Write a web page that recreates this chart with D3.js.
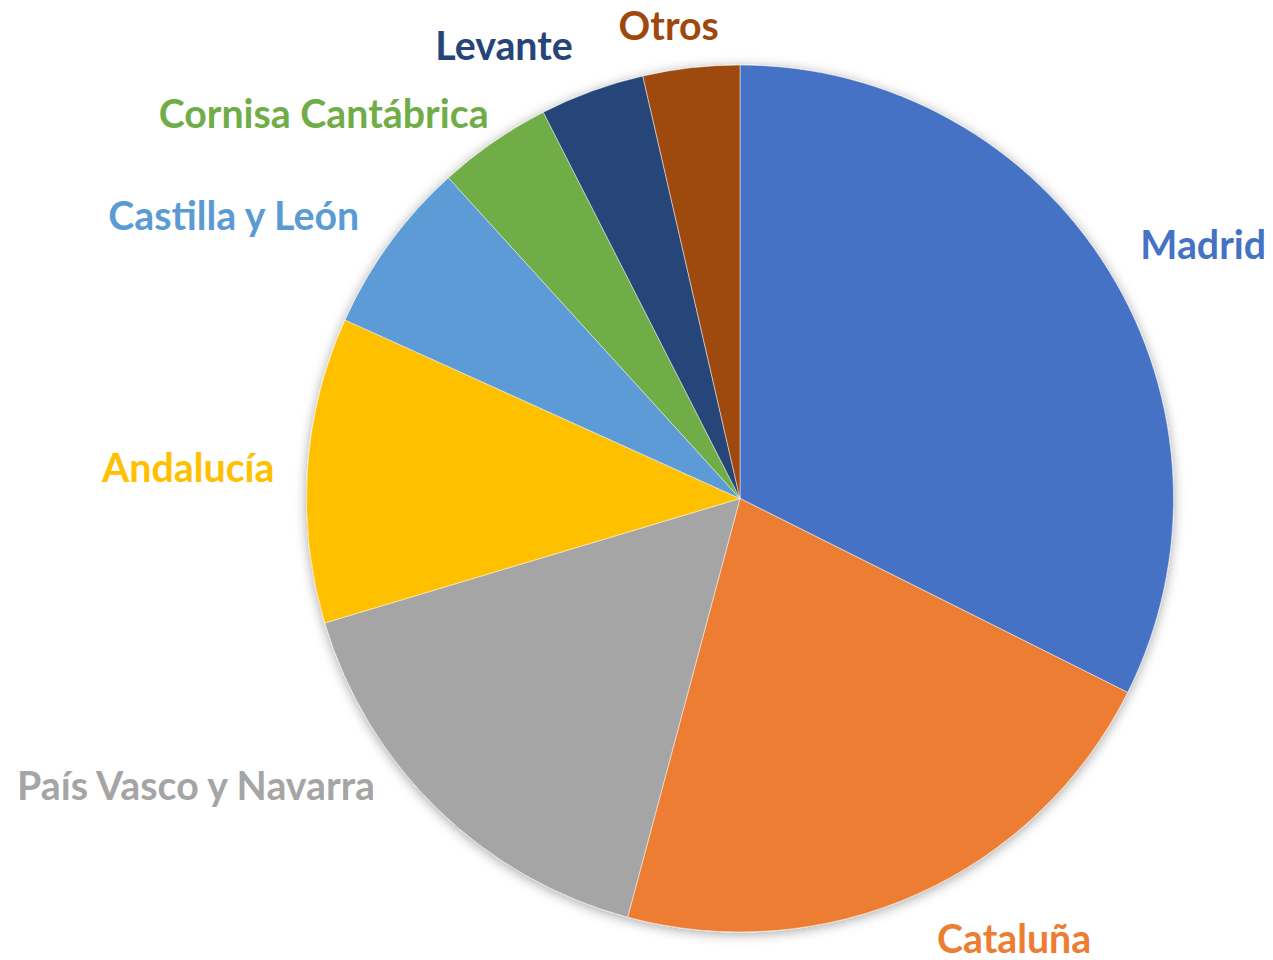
<!DOCTYPE html>
<html>
<head>
<meta charset="utf-8">
<script src="https://cdn.jsdelivr.net/npm/d3@7"></script>
<style>
  html, body { margin: 0; padding: 0; background: #fff; }
  svg { display: block; }
  .lbl { font-family: Lato, "Open Sans", sans-serif; font-weight: 700; font-size: 39.3px; }
</style>
</head>
<body>
<div class="plot"></div>
<script>
// regions, clockwise from 12 o'clock (percent share)
var regions = ["Madrid", "Cataluña", "País Vasco y Navarra", "Andalucía",
  "Castilla y León", "Cornisa Cantábrica", "Levante", "Otros"];
var shares = [32.4, 21.8, 16.2, 11.4, 6.5, 4.25, 3.9, 3.6];
var colors = ["#4472C4", "#ED7D31", "#A5A5A5", "#FFC000",
  "#5B9BD5", "#70AD47", "#264478", "#9E480E"];
// small hand nudges for label placement, like Excel does
var nudges = [[6, -4], [7, 3], [-42, -57], [-3, 0], [-6, -3], [12, 8], [-9, -4], [-19, 1]];

var W = 1273, H = 960,
	cx = 740, cy = 498.5, r = 433.5;

var data = regions.map(function(d, i) { return {name: d, value: shares[i], color: colors[i], nudge: nudges[i]}; });

var svg = d3.select('.plot').append('svg')
	.attr('width', W)
	.attr('height', H);

var defs = svg.append('defs');
var f = defs.append('filter').attr('id', 'shadow')
	.attr('x', '-10%').attr('y', '-10%').attr('width', '120%').attr('height', '120%');
f.append('feDropShadow')
	.attr('dx', 0).attr('dy', 2)
	.attr('stdDeviation', 6)
	.attr('flood-color', '#000')
	.attr('flood-opacity', 0.35);

var pie = d3.pie().sort(null).value(function(d) { return d.value; });
var arc = d3.arc().innerRadius(0).outerRadius(r);
var arcs = pie(data);

var g = svg.append('g')
	.attr('transform', 'translate(' + cx + ',' + cy + ')');

g.append('g')
	.attr('filter', 'url(#shadow)')
	.selectAll('path')
	.data(arcs)
	.enter()
	.append('path')
	.attr('d', arc)
	.attr('fill', function(d) { return d.data.color; })
	.attr('stroke', '#fff')
	.attr('stroke-width', 0.8)
	.attr('stroke-opacity', 0.6);

var lr = r + 30, lh = 30;
g.selectAll('.lbl')
	.data(arcs)
	.enter()
	.append('text')
	.attr('class', 'lbl')
	.attr('fill', function(d) { return d.data.color; })
	.attr('dominant-baseline', 'central')
	.attr('text-anchor', function(d) {
		var s = Math.sin((d.startAngle + d.endAngle) / 2);
		return s > 0.2 ? 'start' : (s < -0.2 ? 'end' : 'middle');
	})
	.attr('x', function(d) {
		var a = (d.startAngle + d.endAngle) / 2;
		return lr * Math.sin(a) + d.data.nudge[0];
	})
	.attr('y', function(d) {
		var a = (d.startAngle + d.endAngle) / 2;
		return -lr * Math.cos(a) - Math.cos(a) * lh / 2 + d.data.nudge[1];
	})
	.text(function(d) { return d.data.name; });
</script>
</body>
</html>
